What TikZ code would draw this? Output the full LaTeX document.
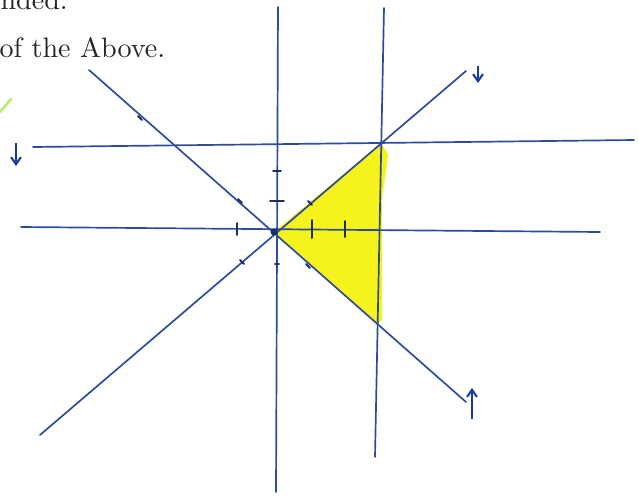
\documentclass[tikz,border=0pt]{standalone}
\usepackage{tikz}
\usepackage{xcolor}
\usetikzlibrary{arrows.meta}
\definecolor{pen}{HTML}{2B4C9E}
\definecolor{ink}{HTML}{1A3AA0}
\definecolor{marker}{HTML}{F5F21C}
\definecolor{lime}{HTML}{BDEB7A}

\begin{document}
\begin{tikzpicture}[x=0.025cm,y=-0.025cm,
  line/.style={pen,line width=1.2pt,line cap=round},
  tick/.style={pen!60!black,line width=1.4pt,line cap=round},
  hand/.style={ink,line width=1.5pt,-{Straight Barb[length=5pt,width=7pt]}},
  txt/.style={font=\normalsize,scale=2,text=black!85,inner sep=0pt}]
  \useasboundingbox (0,0) rectangle (639,495);
  % text left over from the question
  \node[txt,anchor=base west] (t1) at (0,9) {nded.};
  \node[txt,anchor=base west] (t2) at (-1,57) {of the Above.};
  \draw[lime,line width=2pt,line cap=round] (0,112) -- (11,99);
  % corners of the shaded region
  \coordinate (o) at (274,232);
  \coordinate (p) at (381,143);
  \coordinate (q) at (377,324);
  \fill[marker] (o) -- (p) -- (388,154) -- (387,164) -- (382,200) -- (382,320)
    -- (q) -- cycle;
  % end points of the lines
  \coordinate (yb) at (276,492); \coordinate (yt) at (278,7);
  \coordinate (xl) at (21,227);  \coordinate (xr) at (600,232);
  \coordinate (vt) at (384,8);   \coordinate (vb) at (375,457);
  \coordinate (hl) at (33,147);  \coordinate (hr) at (634,140);
  \coordinate (ab) at (40,435);  \coordinate (at) at (466,71);
  \coordinate (bt) at (89,70);   \coordinate (bb) at (466,402);
  \draw[line] (yb) -- (yt);
  \draw[line] (xl) -- (xr);
  \draw[line] (vt) -- (vb);
  \draw[line] (hl) -- (hr);
  \draw[line] (ab) -- (at);
  \draw[line] (bt) -- (bb);
  \fill[pen!60!black] (o) circle (3.5);
  % ticks
  \foreach \x/\h in {237/6,312/9,345/8}
    \draw[tick] (\x,229-\h) -- (\x,229+\h);
  \foreach \y/\w in {171/4,201/7,264/2}
    \draw[tick] (277-\w,\y) -- (277+\w,\y);
  \foreach \x/\y in {240/201,242/262,310/203,308/266,140/118}
    \draw[tick] (\x-2,\y-2) -- (\x+2,\y+2);
  % arrows
  \coordinate (a1) at (16,143); \coordinate (a2) at (16,166);
  \coordinate (b1) at (478,66); \coordinate (b2) at (478,83);
  \coordinate (c1) at (472,419); \coordinate (c2) at (472,388);
  \draw[hand] (a1) -- (a2);
  \draw[hand] (b1) -- (b2);
  \draw[hand] (c1) -- (c2);
\end{tikzpicture}
\end{document}
